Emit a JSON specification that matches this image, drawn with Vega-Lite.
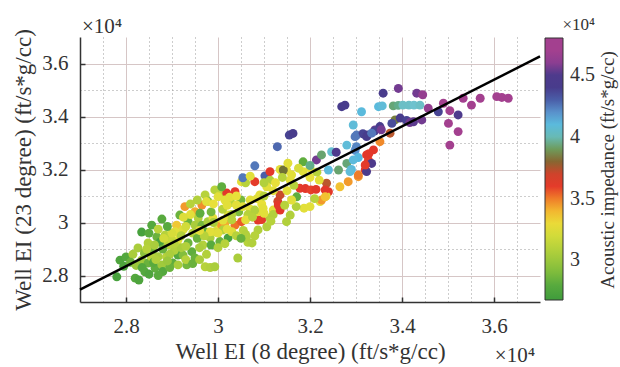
{
  "$schema": "https://vega.github.io/schema/vega-lite/v6.json",
  "width": 460,
  "height": 265,
  "autosize": {"type": "none"},
  "padding": {"left": 80, "top": 37, "right": 80, "bottom": 65},
  "background": "white",
  "config": {
    "font": "Liberation Serif",
    "view": {"stroke": null},
    "axis": {"titleFontWeight": "normal", "titleColor": "#333", "labelColor": "#333"}
  },
  "datasets": {
    "pts": [
      {"x":2.780,"y":2.795,"c":2.72},{"x":2.787,"y":2.858,"c":2.75},{"x":2.820,"y":2.790,"c":2.78},{"x":2.828,"y":2.783,"c":2.75},
      {"x":2.834,"y":2.964,"c":2.72},{"x":2.856,"y":2.990,"c":2.78},{"x":2.878,"y":3.013,"c":2.80},{"x":2.826,"y":2.904,"c":3.05},
      {"x":2.848,"y":2.923,"c":3.08},{"x":2.867,"y":2.946,"c":2.85},{"x":2.859,"y":2.896,"c":2.88},{"x":2.874,"y":2.926,"c":2.72},
      {"x":2.885,"y":2.953,"c":3.10},{"x":2.891,"y":2.915,"c":3.12},{"x":2.834,"y":2.858,"c":3.02},{"x":2.848,"y":2.847,"c":2.85},
      {"x":2.841,"y":2.814,"c":2.78},{"x":2.863,"y":2.828,"c":2.82},{"x":2.878,"y":2.840,"c":3.02},{"x":2.870,"y":2.871,"c":3.05},
      {"x":2.888,"y":2.871,"c":3.10},{"x":2.902,"y":2.847,"c":2.82},{"x":2.913,"y":2.877,"c":2.78},{"x":2.917,"y":3.028,"c":2.85},
      {"x":2.910,"y":2.990,"c":3.36},{"x":2.907,"y":2.965,"c":3.26},{"x":2.924,"y":2.972,"c":3.24},{"x":2.913,"y":2.934,"c":3.26},
      {"x":2.899,"y":2.934,"c":3.16},{"x":2.935,"y":3.003,"c":2.85},{"x":2.928,"y":3.060,"c":3.45},{"x":2.950,"y":3.041,"c":3.42},
      {"x":2.965,"y":3.066,"c":3.47},{"x":2.957,"y":3.017,"c":3.08},{"x":2.950,"y":2.990,"c":3.05},{"x":2.935,"y":2.923,"c":2.85},
      {"x":2.943,"y":2.890,"c":2.82},{"x":2.924,"y":2.877,"c":2.92},{"x":2.950,"y":2.866,"c":2.85},{"x":2.932,"y":2.840,"c":2.88},
      {"x":2.913,"y":2.840,"c":3.05},{"x":2.972,"y":2.833,"c":3.10},{"x":2.983,"y":2.830,"c":3.08},{"x":2.993,"y":2.833,"c":3.05},
      {"x":2.967,"y":2.915,"c":3.08},{"x":2.983,"y":2.942,"c":3.05},{"x":2.972,"y":2.965,"c":2.82},{"x":2.965,"y":2.990,"c":2.88},
      {"x":2.978,"y":3.003,"c":3.05},{"x":2.989,"y":3.017,"c":3.26},{"x":3.000,"y":2.990,"c":3.28},{"x":2.993,"y":2.965,"c":3.22},
      {"x":3.004,"y":2.928,"c":2.85},{"x":3.022,"y":2.942,"c":2.72},{"x":3.043,"y":2.866,"c":3.05},{"x":2.972,"y":3.104,"c":3.10},
      {"x":2.978,"y":3.080,"c":2.90},{"x":2.961,"y":3.035,"c":2.82},{"x":2.985,"y":3.040,"c":2.88},{"x":2.993,"y":3.123,"c":3.10},
      {"x":3.005,"y":3.110,"c":3.12},{"x":3.019,"y":3.111,"c":3.62},{"x":3.037,"y":3.116,"c":3.60},{"x":3.028,"y":3.075,"c":3.10},
      {"x":3.050,"y":3.085,"c":2.88},{"x":3.022,"y":3.028,"c":3.26},{"x":3.008,"y":2.990,"c":3.45},{"x":3.015,"y":2.997,"c":3.42},
      {"x":3.037,"y":2.990,"c":3.52},{"x":3.051,"y":3.003,"c":3.55},{"x":3.030,"y":2.965,"c":3.24},{"x":3.055,"y":2.970,"c":3.10},
      {"x":3.060,"y":2.955,"c":3.08},{"x":3.065,"y":2.925,"c":3.10},{"x":3.051,"y":3.154,"c":3.26},{"x":3.060,"y":3.150,"c":3.10},
      {"x":3.080,"y":3.154,"c":3.60},{"x":3.054,"y":3.169,"c":4.25},{"x":3.080,"y":3.214,"c":4.25},{"x":3.070,"y":3.175,"c":3.26},
      {"x":3.102,"y":3.176,"c":4.30},{"x":3.087,"y":3.009,"c":3.62},{"x":3.095,"y":3.011,"c":3.60},{"x":3.070,"y":3.050,"c":3.26},
      {"x":3.085,"y":3.040,"c":3.26},{"x":3.065,"y":3.030,"c":3.10},{"x":3.045,"y":3.040,"c":2.90},{"x":3.085,"y":3.090,"c":3.26},
      {"x":3.095,"y":3.070,"c":3.28},
      {"x":3.135,"y":3.200,"c":3.26},{"x":3.149,"y":3.198,"c":3.28},{"x":3.157,"y":3.160,"c":3.26},{"x":3.185,"y":3.192,"c":3.26},
      {"x":3.200,"y":3.206,"c":3.28},{"x":3.113,"y":3.160,"c":3.08},{"x":3.106,"y":3.135,"c":3.26},{"x":3.091,"y":3.104,"c":3.26},
      {"x":3.070,"y":3.085,"c":3.26},{"x":3.054,"y":3.060,"c":3.26},{"x":3.040,"y":3.066,"c":3.26},{"x":3.080,"y":3.047,"c":3.08},
      {"x":3.098,"y":3.054,"c":3.26},{"x":3.120,"y":3.047,"c":3.26},{"x":3.113,"y":3.017,"c":3.08},{"x":3.106,"y":2.984,"c":3.08},
      {"x":3.087,"y":2.972,"c":3.08},{"x":3.062,"y":2.946,"c":3.08},{"x":3.157,"y":3.028,"c":3.08},{"x":3.149,"y":3.003,"c":3.08},
      {"x":3.011,"y":3.009,"c":3.26},{"x":3.011,"y":2.972,"c":3.08},{"x":2.983,"y":2.965,"c":3.26},{"x":2.975,"y":3.079,"c":3.26},
      {"x":3.000,"y":3.097,"c":3.26},{"x":3.008,"y":3.135,"c":2.82},{"x":3.120,"y":3.030,"c":3.08},{"x":3.115,"y":3.005,"c":3.10},
      {"x":3.100,"y":3.150,"c":3.08},{"x":3.025,"y":3.095,"c":3.26},{"x":3.040,"y":3.100,"c":3.28},
      {"x":3.155,"y":3.330,"c":4.38},{"x":3.163,"y":3.336,"c":4.40},{"x":3.129,"y":3.286,"c":4.28},{"x":3.113,"y":3.192,"c":3.62},
      {"x":3.142,"y":3.198,"c":3.83},{"x":3.152,"y":3.224,"c":3.26},{"x":3.185,"y":3.229,"c":2.82},{"x":3.214,"y":3.236,"c":4.55},
      {"x":3.175,"y":3.205,"c":3.22},{"x":3.200,"y":3.215,"c":3.95},{"x":3.225,"y":3.255,"c":3.92},{"x":3.247,"y":3.267,"c":4.05},
      {"x":3.257,"y":3.265,"c":4.50},{"x":3.240,"y":3.198,"c":4.10},{"x":3.262,"y":3.198,"c":3.92},{"x":3.280,"y":3.223,"c":3.93},
      {"x":3.290,"y":3.200,"c":4.10},{"x":3.280,"y":3.292,"c":4.08},{"x":3.294,"y":3.368,"c":4.08},{"x":3.301,"y":3.330,"c":4.25},
      {"x":3.315,"y":3.335,"c":4.38},{"x":3.325,"y":3.330,"c":4.40},{"x":3.341,"y":3.349,"c":4.55},{"x":3.298,"y":3.272,"c":4.20},
      {"x":3.305,"y":3.245,"c":4.12},{"x":3.294,"y":3.236,"c":4.10},{"x":3.323,"y":3.255,"c":3.62},{"x":3.327,"y":3.235,"c":3.60},
      {"x":3.320,"y":3.198,"c":3.62},{"x":3.305,"y":3.173,"c":3.45},{"x":3.283,"y":3.154,"c":3.45},{"x":3.265,"y":3.135,"c":3.38},
      {"x":3.236,"y":3.148,"c":3.75},{"x":3.240,"y":3.116,"c":3.62},{"x":3.235,"y":3.100,"c":3.26},{"x":3.222,"y":3.079,"c":3.26},
      {"x":3.178,"y":3.129,"c":3.60},{"x":3.190,"y":3.128,"c":3.62},{"x":3.202,"y":3.123,"c":3.58},{"x":3.213,"y":3.125,"c":3.62},
      {"x":3.233,"y":3.123,"c":3.62},{"x":3.225,"y":3.085,"c":3.45},{"x":3.233,"y":3.097,"c":3.38},{"x":3.171,"y":3.097,"c":2.82},
      {"x":3.187,"y":3.054,"c":3.26},{"x":3.135,"y":3.104,"c":3.72},{"x":3.130,"y":3.080,"c":3.70},{"x":3.135,"y":3.047,"c":3.62},
      {"x":3.131,"y":3.066,"c":3.62},{"x":3.305,"y":3.179,"c":3.50},{"x":3.323,"y":3.192,"c":4.45},{"x":3.334,"y":3.223,"c":4.50},
      {"x":3.320,"y":3.217,"c":3.60},{"x":3.287,"y":3.192,"c":4.08},{"x":3.301,"y":3.286,"c":4.22},{"x":3.298,"y":3.324,"c":4.25},
      {"x":3.269,"y":3.437,"c":4.40},{"x":3.276,"y":3.443,"c":4.40},{"x":3.312,"y":3.418,"c":4.10},{"x":3.359,"y":3.488,"c":4.42},
      {"x":3.392,"y":3.506,"c":4.55},{"x":3.349,"y":3.437,"c":4.10},{"x":3.357,"y":3.440,"c":4.08},{"x":3.381,"y":3.440,"c":3.93},
      {"x":3.392,"y":3.442,"c":3.95},{"x":3.402,"y":3.443,"c":4.02},{"x":3.415,"y":3.443,"c":4.02},{"x":3.426,"y":3.443,"c":4.03},
      {"x":3.439,"y":3.443,"c":4.02},{"x":3.432,"y":3.488,"c":4.55},{"x":3.445,"y":3.482,"c":4.62},{"x":3.385,"y":3.387,"c":3.85},
      {"x":3.378,"y":3.374,"c":4.35},{"x":3.396,"y":3.394,"c":4.40},{"x":3.410,"y":3.385,"c":4.38},{"x":3.352,"y":3.362,"c":4.40},
      {"x":3.340,"y":3.345,"c":4.38},{"x":3.323,"y":3.324,"c":4.40},{"x":3.334,"y":3.337,"c":4.25},{"x":3.355,"y":3.350,"c":4.55},
      {"x":3.374,"y":3.337,"c":3.75},{"x":3.352,"y":3.305,"c":3.48},{"x":3.338,"y":3.274,"c":3.62},{"x":3.328,"y":3.260,"c":3.62},
      {"x":3.417,"y":3.377,"c":4.55},
      {"x":3.490,"y":3.450,"c":4.65},{"x":3.533,"y":3.469,"c":4.68},{"x":3.551,"y":3.443,"c":4.70},{"x":3.570,"y":3.469,"c":4.68},
      {"x":3.606,"y":3.475,"c":4.75},{"x":3.617,"y":3.472,"c":4.72},{"x":3.631,"y":3.469,"c":4.70},{"x":3.504,"y":3.422,"c":4.65},
      {"x":3.479,"y":3.418,"c":4.38},{"x":3.522,"y":3.406,"c":4.50},{"x":3.501,"y":3.374,"c":4.68},{"x":3.522,"y":3.343,"c":4.65},
      {"x":3.504,"y":3.292,"c":4.68},{"x":3.443,"y":3.387,"c":4.55},{"x":3.425,"y":3.380,"c":4.52},{"x":3.457,"y":3.431,"c":4.62},
      {"x":2.800,"y":2.870,"c":2.78},{"x":2.815,"y":2.880,"c":3.05},{"x":2.840,"y":2.885,"c":2.95},{"x":2.855,"y":2.870,"c":3.10},
      {"x":2.860,"y":2.850,"c":2.80},{"x":2.880,"y":2.815,"c":2.78},{"x":2.895,"y":2.830,"c":2.85},{"x":2.905,"y":2.895,"c":3.08},
      {"x":2.920,"y":2.905,"c":3.05},{"x":2.900,"y":2.960,"c":3.22},{"x":2.890,"y":2.985,"c":2.80},{"x":2.945,"y":2.960,"c":3.10},
      {"x":2.955,"y":2.940,"c":2.85},{"x":2.960,"y":2.905,"c":3.05},{"x":2.975,"y":2.880,"c":3.08},{"x":2.940,"y":3.030,"c":3.26},
      {"x":2.925,"y":3.020,"c":3.24},{"x":2.990,"y":3.000,"c":3.05},{"x":3.010,"y":3.050,"c":3.10},{"x":3.030,"y":3.030,"c":3.08},
      {"x":3.020,"y":3.065,"c":3.26},{"x":2.955,"y":3.085,"c":3.08},{"x":3.074,"y":2.923,"c":3.08},{"x":3.080,"y":2.950,"c":3.10},
      {"x":2.795,"y":2.835,"c":2.75},{"x":2.810,"y":2.850,"c":2.85},{"x":2.822,"y":2.838,"c":3.00},{"x":2.835,"y":2.830,"c":2.78},
      {"x":2.850,"y":2.805,"c":2.75},{"x":2.870,"y":2.800,"c":2.80},{"x":2.845,"y":2.900,"c":3.10},{"x":2.862,"y":2.915,"c":3.05},
      {"x":2.880,"y":2.900,"c":2.85},{"x":2.895,"y":2.880,"c":3.05},{"x":2.850,"y":2.960,"c":2.80},{"x":2.870,"y":2.975,"c":3.12},
      {"x":2.882,"y":2.940,"c":3.20},{"x":2.905,"y":2.920,"c":3.10},{"x":2.920,"y":2.950,"c":3.08},{"x":2.930,"y":2.860,"c":3.10},
      {"x":2.945,"y":2.845,"c":2.85},{"x":2.960,"y":2.860,"c":3.05},{"x":2.970,"y":2.950,"c":3.10},{"x":2.985,"y":2.915,"c":2.80},
      {"x":3.000,"y":2.905,"c":3.08},{"x":3.015,"y":2.920,"c":3.10},{"x":3.000,"y":2.960,"c":3.25},{"x":3.020,"y":2.975,"c":3.26},
      {"x":3.040,"y":2.950,"c":3.10},{"x":3.050,"y":2.940,"c":2.85},{"x":3.030,"y":3.010,"c":3.10},{"x":3.060,"y":3.010,"c":3.26},
      {"x":3.075,"y":3.020,"c":3.10},{"x":3.100,"y":3.035,"c":3.26},{"x":3.100,"y":3.100,"c":3.10},{"x":3.120,"y":3.120,"c":3.26},
      {"x":3.125,"y":3.150,"c":3.28},{"x":3.140,"y":3.170,"c":3.10},{"x":3.160,"y":3.180,"c":3.26},{"x":3.165,"y":3.140,"c":3.10},
      {"x":3.150,"y":3.120,"c":3.26},{"x":3.170,"y":3.060,"c":3.08},{"x":3.160,"y":3.085,"c":3.26},{"x":3.145,"y":3.065,"c":3.10},
      {"x":3.200,"y":3.060,"c":3.26},{"x":3.210,"y":3.090,"c":3.10},{"x":3.200,"y":3.170,"c":3.28},{"x":3.220,"y":3.160,"c":3.26},
      {"x":3.215,"y":3.190,"c":3.10},{"x":2.940,"y":3.070,"c":3.10},{"x":2.990,"y":3.070,"c":3.28},{"x":3.015,"y":3.085,"c":3.26},
      {"x":2.960,"y":2.970,"c":3.26},{"x":2.930,"y":2.985,"c":3.20},{"x":2.930,"y":2.910,"c":3.08},{"x":2.865,"y":2.860,"c":3.08},
      {"x":2.890,"y":2.855,"c":3.00}
    ],
    "fit": [{"x": 2.7, "y": 2.747}, {"x": 3.7, "y": 3.627}]
  },
  "encoding": {
    "x": {
      "field": "x", "type": "quantitative",
      "scale": {"domain": [2.7, 3.7], "nice": false, "zero": false},
      "axis": {
        "title": "Well EI (8 degree) (ft/s*g/cc)",
        "values": [2.75, 2.8, 2.85, 2.9, 2.95, 3, 3.05, 3.1, 3.15, 3.2, 3.25, 3.3, 3.35, 3.4, 3.45, 3.5, 3.55, 3.6, 3.65],
        "labelExpr": "abs(datum.value*5-round(datum.value*5))<0.001 ? format(datum.value,'~g') : ''",
        "labelOverlap": false, "labelFlush": false,
        "grid": true,
        "gridColor": {"condition": {"test": "abs(datum.value*5-round(datum.value*5))<0.001", "value": "#d6c6c6"}, "value": "#9a9a9a"},
        "gridDash": {"condition": {"test": "abs(datum.value*5-round(datum.value*5))<0.001", "value": []}, "value": [1, 3]},
        "tickOpacity": {"condition": {"test": "abs(datum.value*5-round(datum.value*5))<0.001", "value": 1}, "value": 0},
        "tickSize": -5, "tickColor": "#333", "tickWidth": 1.5,
        "domainColor": "#333", "domainWidth": 1.5,
        "labelFontSize": 21, "labelPadding": 18,
        "titleFontSize": 23, "titlePadding": 4
      }
    }
  },
  "layer": [
    {
      "data": {"name": "pts"},
      "mark": {"type": "circle", "size": 80, "opacity": 1},
      "encoding": {
        "y": {
          "field": "y", "type": "quantitative",
          "scale": {"domain": [2.7, 3.7], "nice": false, "zero": false},
          "axis": {
            "title": "Well EI (23 degree) (ft/s*g/cc)",
            "values": [2.8, 2.9, 3, 3.1, 3.2, 3.3, 3.4, 3.5, 3.6],
            "labelExpr": "abs(datum.value*5-round(datum.value*5))<0.001 ? format(datum.value,'~g') : ''",
            "labelOverlap": false, "labelFlush": false,
            "grid": true,
            "gridColor": {"condition": {"test": "abs(datum.value*5-round(datum.value*5))<0.001", "value": "#d6c6c6"}, "value": "#9a9a9a"},
            "gridDash": {"condition": {"test": "abs(datum.value*5-round(datum.value*5))<0.001", "value": []}, "value": [1, 3]},
            "tickOpacity": {"condition": {"test": "abs(datum.value*5-round(datum.value*5))<0.001", "value": 1}, "value": 0},
            "tickSize": -5, "tickColor": "#333", "tickWidth": 1.5,
            "domainColor": "#333", "domainWidth": 1.5,
            "labelFontSize": 21, "labelPadding": 17,
            "titleFontSize": 23, "titlePadding": 6
          }
        },
        "color": {
          "field": "c", "type": "quantitative",
          "scale": {
            "type": "linear", "interpolate": "rgb",
            "domain": [2.68, 2.8, 2.92, 3.05, 3.18, 3.28, 3.38, 3.45, 3.52, 3.58, 3.65, 3.72, 3.77, 3.82, 3.87, 3.91, 3.96, 4.03, 4.12, 4.21, 4.3, 4.4, 4.5, 4.56, 4.65, 4.8],
            "range": ["#3F9C3C", "#58AA3E", "#84BE3C", "#AACD3C", "#CCDA3A", "#E8E03A", "#F2C232", "#F29A2C", "#EE7228", "#E6402A", "#E0302A", "#C84B2C", "#B06030", "#6E6A32", "#7A8C42", "#6AA064", "#5FB094", "#6EC2CE", "#55B8E0", "#5A8CC8", "#4A5EA8", "#483C8C", "#4E3A8C", "#7A3C92", "#A3408F", "#A3408F"]
          },
          "legend": {
            "orient": "none", "legendX": 465, "legendY": -20,
            "direction": "vertical",
            "gradientLength": 262, "gradientThickness": 18,
            "gradientStrokeColor": "#333", "gradientStrokeWidth": 1,
            "values": [3, 3.5, 4, 4.5], "format": "~g",
            "labelFontSize": 20, "labelColor": "#333", "labelOffset": 7,
            "title": "×10⁴", "titleFontSize": 17, "titleFontWeight": "normal", "titleColor": "#333",
            "titlePadding": 4, "titleAnchor": "end", "padding": 0
          }
        }
      }
    },
    {
      "data": {"name": "fit"},
      "mark": {"type": "line", "color": "black", "strokeWidth": 2.5},
      "encoding": {
        "y": {
          "field": "y", "type": "quantitative",
          "scale": {"domain": [2.7, 3.7], "nice": false, "zero": false},
          "axis": {
            "orient": "right", "title": "Acoustic impedance (ft/s*g/cc)",
            "labels": false, "ticks": false, "domain": false, "grid": false,
            "titleAngle": 270, "titleBaseline": "bottom", "titleFontSize": 19, "titlePadding": 77
          }
        }
      }
    },
    {
      "data": {"values": [{"x": 3.7, "y": 2.7, "label": "×10⁴"}]},
      "mark": {"type": "text", "align": "right", "baseline": "alphabetic", "dy": 60, "dx": -5, "fontSize": 21, "color": "#333"},
      "encoding": {
        "y": {"field": "y", "type": "quantitative", "scale": {"domain": [2.7, 3.7], "nice": false, "zero": false}, "axis": null},
        "text": {"field": "label"}
      }
    },
    {
      "data": {"values": [{"x": 2.7, "y": 3.7, "label": "×10⁴"}]},
      "mark": {"type": "text", "align": "left", "baseline": "alphabetic", "dy": -4, "dx": 2, "fontSize": 21, "color": "#333"},
      "encoding": {
        "y": {"field": "y", "type": "quantitative", "scale": {"domain": [2.7, 3.7], "nice": false, "zero": false}, "axis": null},
        "text": {"field": "label"}
      }
    }
  ],
  "resolve": {"scale": {"y": "independent"}}
}
